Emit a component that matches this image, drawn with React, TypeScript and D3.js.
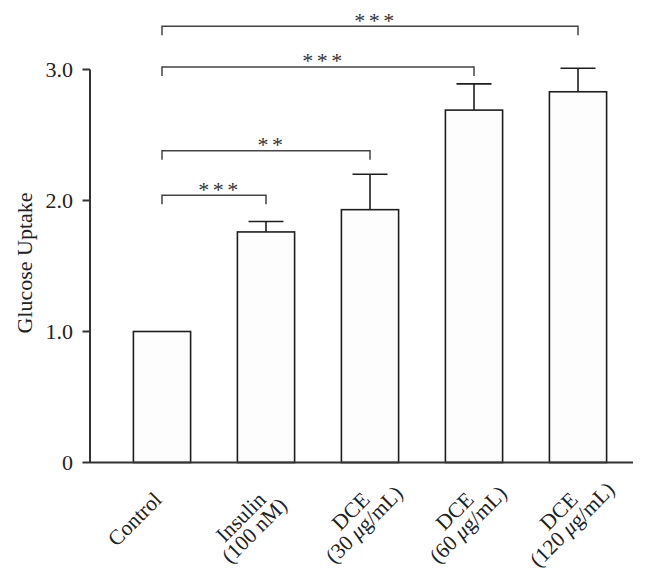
import React, { useRef, useEffect } from 'react';
import * as d3 from 'd3';

// groups along the x axis
const categories = ['Control', 'Insulin', 'DCE30', 'DCE60', 'DCE120'];
const labelTop = ['Control', 'Insulin', 'DCE', 'DCE', 'DCE'];
const labelBottom = ['', '(100 nM)', '(30 μg/mL)', '(60 μg/mL)', '(120 μg/mL)'];

// glucose uptake, mean and upper error
const means = [1.0, 1.76, 1.93, 2.69, 2.83];
const errors = [0, 0.08, 0.27, 0.2, 0.18];

// y ticks
const yTicks = [0, 1, 2, 3];

// significance brackets vs Control
const compareTo = ['Insulin', 'DCE30', 'DCE60', 'DCE120'];
const compareStars = ['***', '**', '***', '***'];
const compareLevel = [2.04, 2.38, 3.02, 3.33];

const FONT = "'Liberation Serif', 'Times New Roman', serif";

const App = () => {
  const svgRef = useRef<SVGSVGElement>(null);

  useEffect(() => {
    const svg = d3.select(svgRef.current);
    svg.selectAll('*').remove();

    const axisX = 90;
    const x = d3.scaleBand().domain(categories).range([110, 630]).paddingInner(0.45).paddingOuter(0.225);
    const y = d3.scaleLinear().domain([0, 3]).range([462.5, 69.5]);
    const cx = (c: string) => (x(c) as number) + x.bandwidth() / 2;

    // bars
    svg
      .append('g')
      .selectAll('rect')
      .data(categories)
      .enter()
      .append('rect')
      .attr('x', (d) => x(d) as number)
      .attr('y', (d, i) => y(means[i]))
      .attr('width', x.bandwidth())
      .attr('height', (d, i) => y(0) - y(means[i]))
      .attr('fill', '#fdfdfd')
      .attr('stroke', '#1e1e1e')
      .attr('stroke-width', 1.6);

    // error bars (upper only)
    const eb = svg.append('g').attr('stroke', '#1e1e1e').attr('stroke-width', 1.6);
    categories.forEach((c, i) => {
      if (!errors[i]) return;
      eb.append('line')
        .attr('x1', cx(c)).attr('x2', cx(c))
        .attr('y1', y(means[i])).attr('y2', y(means[i] + errors[i]));
      eb.append('line')
        .attr('x1', cx(c) - 17.5).attr('x2', cx(c) + 17.5)
        .attr('y1', y(means[i] + errors[i])).attr('y2', y(means[i] + errors[i]));
    });

    // axes
    const ax = svg.append('g').attr('stroke', '#333').attr('stroke-width', 2);
    ax.append('line').attr('x1', axisX).attr('x2', axisX).attr('y1', y(0)).attr('y2', y(3));
    ax.append('line').attr('x1', axisX).attr('x2', 633).attr('y1', y(0)).attr('y2', y(0));
    yTicks.forEach((t) => {
      ax.append('line').attr('x1', axisX - 7.5).attr('x2', axisX).attr('y1', y(t)).attr('y2', y(t));
    });

    svg
      .append('g')
      .selectAll('text')
      .data(yTicks)
      .enter()
      .append('text')
      .attr('x', 73)
      .attr('y', (d) => y(d))
      .attr('dy', '0.35em')
      .attr('text-anchor', 'end')
      .style('font-family', FONT)
      .style('font-size', '22px')
      .attr('fill', '#222')
      .text((d) => (d === 0 ? '0' : d.toFixed(1)));

    svg
      .append('text')
      .attr('transform', `translate(32, ${(y(0) + y(3)) / 2 - 3}) rotate(-90)`)
      .attr('text-anchor', 'middle')
      .style('font-family', FONT)
      .style('font-size', '22px')
      .attr('fill', '#222')
      .text('Glucose Uptake');

    // x labels, rotated, lines centred under the first line
    categories.forEach((c, i) => {
      const g = svg
        .append('g')
        .attr('transform', `translate(${cx(c) + 1}, 501) rotate(-45)`)
        .style('font-family', FONT)
        .style('font-size', '21.5px')
        .attr('fill', '#222');
      const first = g.append('text').attr('text-anchor', 'end').text(labelTop[i]);
      const w = (first.node() as SVGTextElement).getComputedTextLength();
      if (labelBottom[i]) {
        const second = g.append('text').attr('text-anchor', 'middle').attr('x', -w / 2).attr('y', 19);
        labelBottom[i].split(/(μ)/).forEach((part) => {
          if (!part) return;
          const ts = second.append('tspan').text(part);
          if (part === 'μ') ts.style('font-style', 'italic');
        });
      }
    });

    // significance brackets
    const br = svg.append('g');
    compareTo.forEach((c, i) => {
      const x1 = cx(categories[0]);
      const x2 = cx(c);
      const yy = y(compareLevel[i]);
      br.append('path')
        .attr('d', `M${x1},${yy + 9}V${yy}H${x2}V${yy + 9}`)
        .attr('fill', 'none')
        .attr('stroke', '#444')
        .attr('stroke-width', 1.5);
      br.append('text')
        .attr('x', (x1 + x2) / 2 + 6)
        .attr('y', yy + 1.5)
        .attr('text-anchor', 'middle')
        .style('font-family', FONT)
        .style('font-size', '22px')
        .style('letter-spacing', '3.5px')
        .attr('fill', '#333')
        .text(compareStars[i]);
    });
  }, []);

  return (
    <svg
      ref={svgRef}
      width={647}
      height={579}
      style={{ position: 'absolute', left: 0, top: 0, background: '#fff' }}
    />
  );
};

export default App;
